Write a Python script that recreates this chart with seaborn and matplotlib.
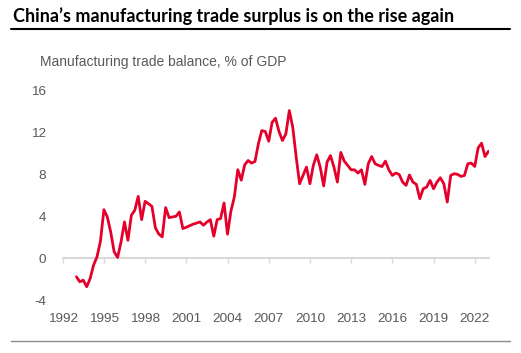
import matplotlib.pyplot as plt
import matplotlib.dates as mdates
from matplotlib.lines import Line2D
import seaborn as sns
import pandas as pd

sns.set_style("white")
plt.rcParams['font.family'] = ['Liberation Sans', 'DejaVu Sans']
plt.rcParams['axes.unicode_minus'] = False

# quarterly manufacturing trade balance, % of GDP (1993Q1 - 2023Q1)
start_quarter = "1993-01-01"
balance = [
    -1.78, -2.26, -2.10, -2.73,   # 1993
    -1.94, -0.67, 0.12, 1.60,     # 1994
    4.63, 3.94, 2.50, 0.60,       # 1995
    0.07, 1.55, 3.46, 1.71,       # 1996
    4.10, 4.57, 5.90, 3.68,       # 1997
    5.43, 5.20, 4.95, 2.90,       # 1998
    2.30, 2.03, 4.83, 3.87,       # 1999
    3.94, 4.00, 4.41, 2.83,       # 2000
    2.95, 3.10, 3.25, 3.35,       # 2001
    3.46, 3.14, 3.45, 3.68,       # 2002
    2.10, 3.68, 3.78, 5.27,       # 2003
    2.29, 4.50, 5.84, 8.45,       # 2004
    7.45, 8.90, 9.33, 9.08,       # 2005
    9.24, 10.92, 12.19, 12.10,    # 2006
    11.17, 12.98, 13.37, 12.10,   # 2007
    11.24, 11.87, 14.10, 12.50,   # 2008
    9.65, 7.11, 7.90, 8.70,       # 2009
    7.11, 8.86, 9.87, 8.70,       # 2010
    6.90, 9.17, 9.80, 8.70,       # 2011
    7.27, 10.10, 9.27, 8.86,      # 2012
    8.44, 8.44, 8.13, 8.44,       # 2013
    7.05, 9.02, 9.71, 9.02,       # 2014
    8.86, 8.75, 9.27, 8.44,       # 2015
    7.90, 8.13, 8.00, 7.27,       # 2016
    6.95, 7.95, 7.27, 7.05,       # 2017
    5.68, 6.63, 6.79, 7.43,       # 2018
    6.63, 7.27, 7.68, 7.11,       # 2019
    5.36, 7.90, 8.07, 8.00,       # 2020
    7.81, 7.90, 9.02, 9.08,       # 2021
    8.76, 10.54, 10.98, 9.71,     # 2022
    10.22,                        # 2023
]
tick_years = [1992, 1995, 1998, 2001, 2004, 2007, 2010, 2013, 2016, 2019, 2022]
y_ticks = [-4, 0, 4, 8, 12, 16]

df = pd.DataFrame({
    "date": pd.date_range(start_quarter, periods=len(balance), freq="QS"),
    "balance": balance,
})

red = "#e4002b"
grey_txt = "#595959"
axis_grey = "#d9d9d9"

fig = plt.figure(figsize=(5.21, 3.53), dpi=100)
ax = fig.add_axes([0.1203, 0.1501, 0.8183, 0.5930])

sns.lineplot(data=df, x="date", y="balance", ax=ax, color=red, linewidth=2.0, zorder=3)

ax.set_ylim(-4, 16)
ax.set_xlim(pd.Timestamp("1992-01-01"), pd.Timestamp("2023-01-15"))
ax.set_yticks(y_ticks)
ax.set_xlabel('')
ax.set_ylabel('')

for s in ['top', 'right', 'left']:
    ax.spines[s].set_visible(False)
ax.spines['bottom'].set_position(('data', 0))
ax.spines['bottom'].set_color(axis_grey)
ax.spines['bottom'].set_linewidth(1.5)

tick_dates = [pd.Timestamp(f"{y}-01-01") for y in tick_years]
ax.set_xticks(tick_dates)
ax.tick_params(axis='x', direction='out', length=3.5, width=1, color=axis_grey,
               labelbottom=False, bottom=True)
ax.tick_params(axis='y', length=0, labelsize=9.7, labelcolor=grey_txt, pad=12)

# year labels sit below the plot, ticks sit on the zero line
sec = ax.secondary_xaxis('bottom')
sec.set_xticks(tick_dates)
sec.xaxis.set_major_formatter(mdates.DateFormatter('%Y'))
sec.tick_params(length=0, labelsize=9.7, labelcolor=grey_txt, pad=9)
sec.spines['bottom'].set_visible(False)

fig.text(0.025, 0.9377, "China\u2019s manufacturing trade surplus is on the rise again",
         fontsize=13.0, fontweight='bold', family=['Lato', 'DejaVu Sans'],
         color='black', va='baseline', ha='left')
fig.add_artist(Line2D([0.021, 0.979], [0.917, 0.917], color='black', lw=1.5,
                      transform=fig.transFigure))
fig.text(0.0768, 0.8244, "Manufacturing trade balance, % of GDP",
         fontsize=10.0, color=grey_txt, va='center', ha='left')
fig.add_artist(Line2D([0.021, 0.979], [0.034, 0.034], color='#8c8c8c', lw=1,
                      transform=fig.transFigure))

plt.savefig('out.png', dpi=100)
